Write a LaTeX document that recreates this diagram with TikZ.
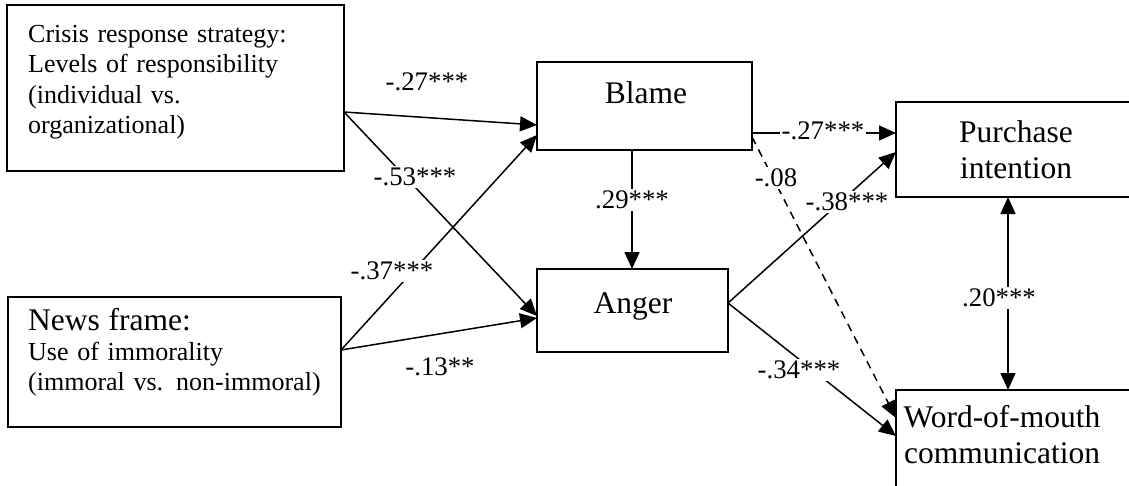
\documentclass[tikz,border=0pt]{standalone}
\usepackage{fontspec}
\setmainfont{Liberation Serif}
\usetikzlibrary{arrows.meta,calc}

\begin{document}
\begin{tikzpicture}[x=1pt,y=-1pt,
  box/.style={draw, line width=1.6pt, inner sep=0pt, outer sep=0pt, anchor=north west},
  small/.style={font=\fontsize{26}{30.5}\selectfont},
  big/.style={font=\fontsize{31.5}{36}\selectfont},
  txt/.style={inner sep=0pt},
  lbl/.style={font=\fontsize{26.8}{30}\selectfont, fill=white, inner sep=1.5pt},
  tip/.tip={Triangle[length=17pt,width=15pt]},
  link/.style={line width=1.5pt, -tip},
  both/.style={line width=1.5pt, tip-tip},
]
\useasboundingbox (0,0) rectangle (1129,485);

% boxes
\node[box, minimum width=337pt, minimum height=166pt] (crisis) at (7,5) {};
\node[box, minimum width=333pt, minimum height=130pt] (news) at (8,297) {};
\node[box, minimum width=215pt, minimum height=88pt] (blame) at (537,62) {};
\node[box, minimum width=191pt, minimum height=83pt] (anger) at (537,269) {};
\node[box, minimum width=250pt, minimum height=95pt] (purchase) at (896,102) {};
\node[box, minimum width=250pt, minimum height=110pt] (wom) at (896,390) {};

% box texts
\node[txt, small, text width=320pt, align=left, anchor=base west] (crisisT) at (28,42)
  {Crisis response strategy:\\Levels of responsibility\\(individual vs.\\organizational)};
\node[txt, small, text width=320pt, align=left, anchor=base west] (newsT) at (28,330)
  {{\fontsize{31.5}{33}\selectfont News frame:}\\[-0.5pt]Use of immorality\\(immoral vs. non-immoral)};
\node[txt, big, anchor=base] (blameT) at (646,103) {Blame};
\node[txt, big, anchor=base] (angerT) at (633,313) {Anger};
\node[txt, big, text width=240pt, align=center, anchor=base] (purchaseT) at (1016,142)
  {Purchase\\intention};
\node[txt, big, text width=240pt, align=center, anchor=base] (womT) at (1002,427)
  {Word-of-mouth\\communication};

% paths
\draw[link] ($(crisis.north east)+(0,107)$) -- ($(blame.north west)+(0,63)$);
\draw[link] ($(crisis.north east)+(0,107)$) -- ($(anger.north west)+(0,47)$);
\draw[link] ($(news.north east)+(0,53)$) -- ($(blame.north west)+(0,73)$);
\draw[link] ($(news.north east)+(0,53)$) -- ($(anger.north west)+(0,49)$);
\draw[link] ($(blame.south west)+(95,0)$) -- ($(anger.north west)+(95,0)$);
\draw[link] ($(blame.north east)+(0,71)$) -- ($(purchase.north west)+(0,31)$);
\draw[link, dash pattern=on 8pt off 6pt] ($(blame.north east)+(0,75)$) -- ($(wom.north west)+(0,28)$);
\draw[link] ($(anger.north east)+(0,34)$) -- ($(purchase.north west)+(0,50)$);
\draw[link] ($(anger.north east)+(0,34)$) -- ($(wom.north west)+(0,46)$);
\draw[both] ($(purchase.south west)+(112,0)$) -- ($(wom.north west)+(112,0)$);

% coefficients
\node[lbl] (l1) at (427,82) {-.27***};
\node[lbl] (l2) at (415,177) {-.53***};
\node[lbl] (l3) at (392,271) {-.37***};
\node[lbl] (l4) at (440,367) {-.13**};
\node[lbl] (l5) at (632,200) {.29***};
\node[lbl] (l6) at (823,131) {-.27***};
\node[lbl] (l7) at (776,178) {-.08};
\node[lbl] (l8) at (847,202) {-.38***};
\node[lbl] (l9) at (799,370) {-.34***};
\node[lbl] (l10) at (999,298) {.20***};
\end{tikzpicture}
\end{document}
